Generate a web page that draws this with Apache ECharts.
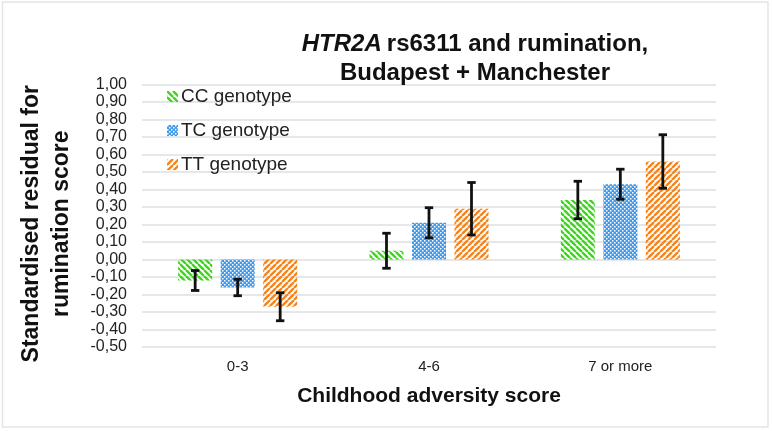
<!DOCTYPE html>
<html>
<head>
<meta charset="utf-8">
<script src="https://cdn.jsdelivr.net/npm/echarts@6/dist/echarts.min.js"></script>
<style>
  html, body { margin: 0; padding: 0; background: #fff; }
  #chart { width: 772px; height: 431px; }
</style>
</head>
<body>
<div id="chart"></div>
<script>
  // categories + series values
  var categories = ['0-3', '4-6', '7 or more'];
  var genotypes = ['CC genotype', 'TC genotype', 'TT genotype'];
  var ccValues = [-0.12, 0.05, 0.34];
  var tcValues = [-0.16, 0.21, 0.43];
  var ttValues = [-0.27, 0.29, 0.56];
  // half-length of the error bars
  var ccErr = [0.057, 0.10, 0.107];
  var tcErr = [0.047, 0.086, 0.086];
  var ttErr = [0.08, 0.15, 0.153];
  var yTicks = { min: -0.5, max: 1.0, step: 0.1 };

  var FONT = '"Liberation Sans", Arial, sans-serif';
  var BAR_W = 34, BAR_GAP = 8.5;

  // hatch patterns like the excel fills
  function stripes(color, dir) {
    var c = document.createElement('canvas');
    c.width = 6; c.height = 6;
    var g = c.getContext('2d');
    g.strokeStyle = color;
    g.lineWidth = 2.4;
    g.beginPath();
    for (var k = -1; k <= 1; k++) {
      if (dir > 0) { // "/"
        g.moveTo(k * 6, 6); g.lineTo(k * 6 + 6, 0);
      } else {       // "\"
        g.moveTo(k * 6, 0); g.lineTo(k * 6 + 6, 6);
      }
    }
    g.stroke();
    return { image: c, repeat: 'repeat' };
  }
  function checker(color) {
    var c = document.createElement('canvas');
    c.width = 4; c.height = 4;
    var g = c.getContext('2d');
    g.fillStyle = color;
    g.fillRect(0, 0, 4, 4);
    g.fillStyle = '#ffffff';
    g.fillRect(0, 0, 1.5, 1.5);
    g.fillRect(2, 2, 1.5, 1.5);
    return { image: c, repeat: 'repeat' };
  }

  var fills = [stripes('#3fd61e', -1), checker('#3d9cf0'), stripes('#f5861f', 1)];
  var values = [ccValues, tcValues, ttValues];
  var errs = [ccErr, tcErr, ttErr];

  var series = [];
  genotypes.forEach(function (name, k) {
    series.push({
      name: name,
      type: 'bar',
      barWidth: BAR_W,
      barGap: (BAR_GAP / BAR_W * 100) + '%',
      itemStyle: { color: fills[k] },
      data: values[k]
    });
  });
  genotypes.forEach(function (name, k) {
    series.push({
      type: 'custom',
      z: 10,
      data: values[k].map(function (v, i) { return [i, v - errs[k][i], v + errs[k][i]]; }),
      encode: { x: 0, y: [1, 2] },
      renderItem: function (params, api) {
        var lo = api.coord([api.value(0), api.value(1)]);
        var hi = api.coord([api.value(0), api.value(2)]);
        var x = lo[0] + (k - 1) * (BAR_W + BAR_GAP);
        var st = { stroke: '#111', lineWidth: 2.8 };
        return {
          type: 'group',
          children: [
            { type: 'line', shape: { x1: x, y1: lo[1], x2: x, y2: hi[1] }, style: st },
            { type: 'line', shape: { x1: x - 4.2, y1: lo[1], x2: x + 4.2, y2: lo[1] }, style: st },
            { type: 'line', shape: { x1: x - 4.2, y1: hi[1], x2: x + 4.2, y2: hi[1] }, style: st }
          ]
        };
      }
    });
  });

  var chart = echarts.init(document.getElementById('chart'));
  chart.setOption({
    backgroundColor: '#fff',
    animation: false,
    textStyle: { fontFamily: FONT },
    title: {
      text: '{i|HTR2A} {b|rs6311 and rumination,}\n{b|Budapest + Manchester}',
      left: 470,
      top: 25,
      textAlign: 'center',
      textStyle: {
        rich: {
          i: { fontFamily: FONT, fontSize: 24, fontWeight: 'bold', fontStyle: 'italic', color: '#111', lineHeight: 29 },
          b: { fontFamily: FONT, fontSize: 24, fontWeight: 'bold', color: '#111', lineHeight: 29, align: 'center' }
        }
      }
    },
    legend: {
      data: genotypes,
      orient: 'vertical',
      left: 162,
      top: 82,
      itemWidth: 11,
      itemHeight: 11,
      itemGap: 15,
      icon: 'rect',
      textStyle: { fontFamily: FONT, fontSize: 19, color: '#222', padding: [0, 0, 0, -2] }
    },
    grid: { left: 142, right: 56, top: 84.5, bottom: 84, containLabel: false, outerBoundsMode: 'none' },
    xAxis: {
      type: 'category',
      data: categories,
      axisLine: { show: false },
      axisTick: { show: false },
      axisLabel: { fontFamily: FONT, fontSize: 15, color: '#222', margin: 12 },
      name: 'Childhood adversity score',
      nameLocation: 'middle',
      nameGap: 39,
      nameTextStyle: { fontFamily: FONT, fontSize: 21, fontWeight: 'bold', color: '#111' }
    },
    yAxis: {
      type: 'value',
      min: yTicks.min,
      max: yTicks.max,
      interval: yTicks.step,
      axisLine: { show: false },
      axisTick: { show: false },
      splitLine: { lineStyle: { color: '#dcdfe0', width: 1.5 } },
      axisLabel: {
        fontFamily: FONT, fontSize: 16, color: '#222', margin: 15,
        formatter: function (v) { return v.toFixed(2).replace('.', ','); }
      },
      name: 'Standardised residual for\nrumination score',
      nameLocation: 'middle',
      nameGap: 65,
      nameTextStyle: { fontFamily: FONT, fontSize: 23, fontWeight: 'bold', color: '#111', lineHeight: 30, padding: [0, 16, 0, 0] }
    },
    graphic: [{
      type: 'rect',
      silent: true,
      shape: { x: 2.5, y: 2, width: 765.5, height: 425 },
      style: { fill: 'none', stroke: '#e2e6e6', lineWidth: 1.5 }
    }],
    series: series
  });
</script>
</body>
</html>
